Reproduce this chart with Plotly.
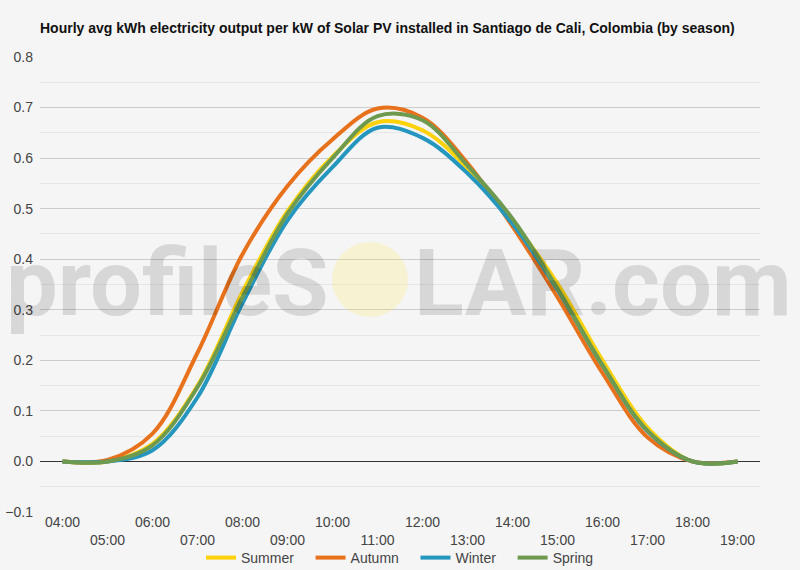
import plotly.graph_objects as go

hours = ["04:00", "05:00", "06:00", "07:00", "08:00", "09:00", "10:00", "11:00",
         "12:00", "13:00", "14:00", "15:00", "16:00", "17:00", "18:00", "19:00"]
summer = [0.0, 0.0, 0.035, 0.15, 0.335, 0.495, 0.603, 0.671, 0.655, 0.58, 0.475, 0.352, 0.20, 0.067, 0.0, 0.0]
autumn = [0.0, 0.003, 0.055, 0.215, 0.41, 0.545, 0.637, 0.698, 0.68, 0.59, 0.465, 0.325, 0.175, 0.048, 0.0, 0.0]
winter = [0.0, 0.0, 0.022, 0.127, 0.313, 0.477, 0.582, 0.66, 0.64, 0.57, 0.47, 0.34, 0.19, 0.06, 0.0, 0.0]
spring = [0.0, 0.0, 0.032, 0.147, 0.325, 0.49, 0.60, 0.683, 0.675, 0.585, 0.48, 0.342, 0.19, 0.061, 0.0, 0.0]

series = [("Summer", summer, "#fdd20a"), ("Autumn", autumn, "#e8711c"),
          ("Winter", winter, "#2596be"), ("Spring", spring, "#6e9a4f")]

title = "Hourly avg kWh electricity output per kW of Solar PV installed in Santiago de Cali, Colombia (by season)"

NB = "\u00a0" * 3

fig = go.Figure()
for i, (name, vals, col) in enumerate(series):
    label = name + (NB if i < len(series) - 1 else "")
    fig.add_trace(go.Scatter(x=hours, y=vals, name=label, mode="lines",
                             line=dict(color=col, width=4, shape="spline", smoothing=1.0),
                             hoverinfo="skip"))

ticktext = [h if i % 2 == 0 else "<br>" + h for i, h in enumerate(hours)]

W, H = 800, 570
L, R, T, B = 40, 40, 57, 58
pw, ph = W - L - R, H - T - B

def px(x):
    return (x - L) / pw

def py(y):
    return (H - B - y) / ph

fig.update_layout(
    width=W, height=H,
    margin=dict(l=L, r=R, t=T, b=B, autoexpand=False),
    paper_bgcolor="#f5f5f5", plot_bgcolor="#f5f5f5",
    font=dict(family="Liberation Sans, Arial, sans-serif", size=14, color="#444"),
    title=dict(text="<b>" + title + "</b>", x=px(40), xref="paper", xanchor="left",
               y=1 - 28 / H, yanchor="middle",
               font=dict(family="Liberation Sans, Arial, sans-serif", size=14, color="#111")),
    xaxis=dict(type="category", tickmode="array", tickvals=hours, ticktext=ticktext,
               range=[-0.5, len(hours) - 0.5], automargin=False,
               showgrid=False, zeroline=False, showline=False, ticks="",
               tickfont=dict(size=14, color="#444")),
    yaxis=dict(range=[-0.1, 0.8], dtick=0.1, tick0=0, tickformat=".1f", automargin=False,
               showgrid=True, gridcolor="#cccccc", gridwidth=1,
               zeroline=True, zerolinecolor="#333333", zerolinewidth=1,
               showline=False, ticks="", ticklabelstandoff=6,
               tickfont=dict(size=14, color="#444"),
               minor=dict(dtick=0.05, showgrid=True, gridcolor="#e6e6e6", gridwidth=1)),
    legend=dict(orientation="h", x=0.5, xanchor="center", y=py(558), yanchor="middle",
                itemwidth=30, font=dict(size=14, color="#444"), bgcolor="rgba(0,0,0,0)"),
    showlegend=True,
)

# watermark (semi-transparent, drawn on top as in the reference)
fig.add_shape(type="circle", xref="paper", yref="paper",
              x0=px(332), x1=px(408), y0=py(317), y1=py(242),
              fillcolor="rgba(255,236,70,0.2)", line=dict(width=0), layer="above")
fig.add_annotation(text="profileS", xref="paper", yref="paper", x=px(331), y=py(283),
                   xanchor="right", yanchor="middle", showarrow=False,
                   font=dict(family="Roboto, sans-serif", size=92, weight=700,
                             color="rgba(0,0,0,0.12)"))
fig.add_annotation(text="LAR.com", xref="paper", yref="paper", x=px(412), y=py(283),
                   xanchor="left", yanchor="middle", showarrow=False,
                   font=dict(family="Roboto, sans-serif", size=92, weight=700,
                             color="rgba(0,0,0,0.12)"))

fig.write_html("out.html", config={"displayModeBar": False},
               post_script="document.body.style.margin='0';document.body.style.padding='0';")
